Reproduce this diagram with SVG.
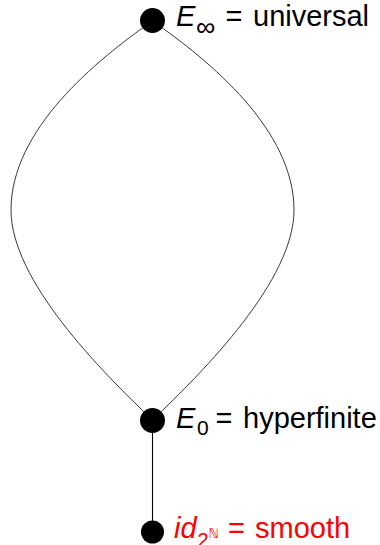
<svg xmlns="http://www.w3.org/2000/svg" width="380" height="545" viewBox="0 0 380 545">
<style>
.edge{fill:none;stroke:#222;stroke-width:0.9}
.node{fill:#000}
.lbl{font-family:"Liberation Sans",Arial,sans-serif;font-size:29px;fill:#000}
.red{fill:#ff0000}
.it{font-style:italic}
</style>
<rect width="380" height="545" fill="#fff"/>
<g id="connectors">
<path class="edge" d="M152.5,21 C95,61 11,130 11,210 C11,280 100,370 152.5,420"/>
<path class="edge" d="M152.5,21 C210,61 294,130 294,210 C294,280 205,370 152.5,420"/>
<path class="edge" d="M152.5,420 L152.5,532" style="stroke:#000;stroke-width:1.1"/>
</g>
<g id="universal">
<circle class="node" cx="152.5" cy="20.5" r="12.5"/>
<text class="lbl" y="26"><tspan x="176" class="it">E</tspan><tspan x="196" y="36" font-size="27">∞</tspan><tspan x="225.5" y="26">=</tspan><tspan x="253">universal</tspan></text>
</g>
<g id="hyperfinite">
<circle class="node" cx="152.5" cy="420.5" r="12.5"/>
<text class="lbl" y="428"><tspan x="176" class="it">E</tspan><tspan x="197" y="435" font-size="21">0</tspan><tspan x="215.5" y="428">=</tspan><tspan x="243">hyperfinite</tspan></text>
</g>
<g id="smooth">
<circle class="node" cx="152.5" cy="532" r="11.5"/>
<text class="lbl red" y="538"><tspan x="174" class="it">id</tspan><tspan x="197.5" y="547" font-size="20">2</tspan><tspan x="208.5" y="538" font-size="13" font-family="DejaVu Sans,sans-serif">ℕ</tspan><tspan x="228" y="538">=</tspan><tspan x="255">smooth</tspan></text>
</g>
</svg>
